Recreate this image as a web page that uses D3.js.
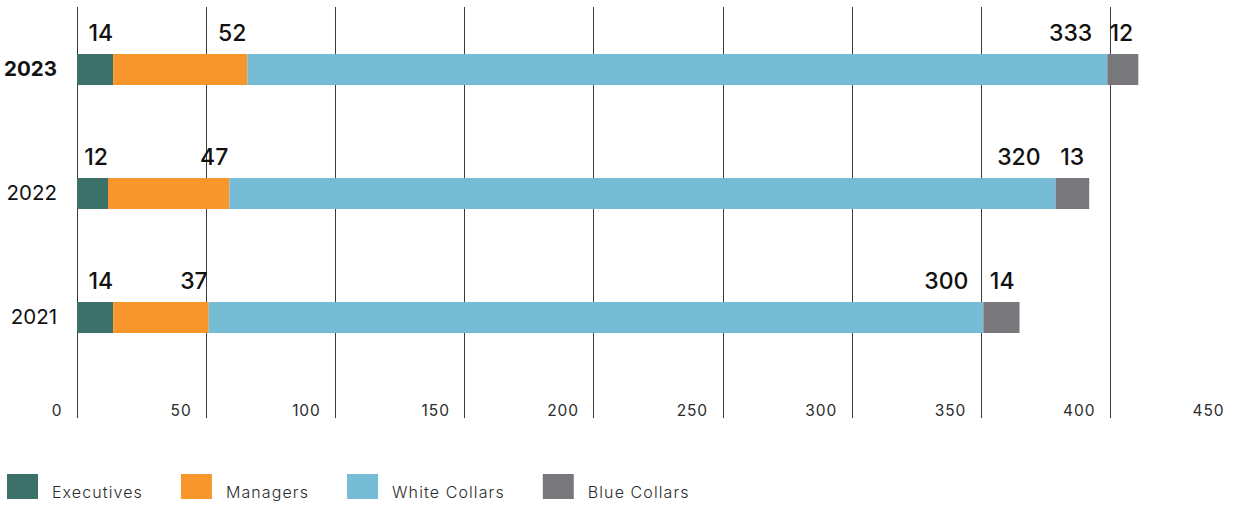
<!DOCTYPE html>
<html>
<head>
<meta charset="utf-8">
<script src="https://cdn.jsdelivr.net/npm/d3@7"></script>
<style>
  html, body { margin: 0; padding: 0; background: #fff; }
  svg { display: block; }
</style>
</head>
<body>
<svg id="chart" width="1238" height="505"></svg>
<script>
// Headcount by employee category, stacked per year
const years = ["2023", "2022", "2021"];
const categories = ["Executives", "Managers", "White Collars", "Blue Collars"];
const executives = [14, 12, 14];
const managers = [52, 47, 37];
const whiteCollars = [333, 320, 300];
const blueCollars = [12, 13, 14];
const tickValues = [0, 50, 100, 150, 200, 250, 300, 350, 400, 450];

const colors = ["#3b7169", "#f7972b", "#77bcd5", "#78787c"];
// how far each category's value label sits back from its segment end
const labelInset = [0, 1, 15, 5];

const rows = years.map((y, i) => ({
  year: y,
  Executives: executives[i],
  Managers: managers[i],
  "White Collars": whiteCollars[i],
  "Blue Collars": blueCollars[i]
}));

const svg = d3.select("#chart");
const font = "Inter, 'Noto Sans', sans-serif";

const x = d3.scaleLinear().domain([0, 450]).range([77, 1239]);
const y = d3.scaleBand().domain(years).range([7.5, 379.5])
  .paddingInner(0.75).paddingOuter(0.375);

// vertical gridlines
const grid = svg.append("g");
grid.selectAll("line").data(tickValues).join("line")
  .attr("x1", d => Math.round(x(d)) + 0.5)
  .attr("x2", d => Math.round(x(d)) + 0.5)
  .attr("y1", 7).attr("y2", 418)
  .attr("stroke", "#3a3a3a").attr("stroke-width", 1);

// tick labels sit to the left of each gridline
const xAxis = d3.axisBottom(x).tickValues(tickValues).tickSize(0).tickPadding(0);
const axisG = svg.append("g").attr("transform", "translate(0,404)").call(xAxis);
axisG.select(".domain").remove();
axisG.selectAll("text")
  .attr("text-anchor", "end")
  .attr("x", -15)
  .attr("dy", 0)
  .attr("y", 12)
  .attr("font-family", font)
  .attr("font-size", "15.5px")
  .attr("letter-spacing", "0.9px")
  .attr("fill", "#2b2b2b");

// stacked bars
const stack = d3.stack().keys(categories)(rows);
const layers = svg.append("g").selectAll("g").data(stack).join("g")
  .attr("fill", (d, i) => colors[i]);

layers.selectAll("rect").data(d => d).join("rect")
  .attr("x", d => x(d[0]))
  .attr("width", d => x(d[1]) - x(d[0]))
  .attr("y", d => y(d.data.year))
  .attr("height", y.bandwidth());

// value labels above each segment
const labels = svg.append("g").selectAll("g").data(stack).join("g");
labels.each(function (layer, li) {
  d3.select(this).selectAll("text").data(layer).join("text")
    .attr("x", d => x(d[1]) - labelInset[li])
    .attr("y", d => y(d.data.year) - 13)
    .attr("text-anchor", "end")
    .attr("font-family", font)
    .attr("font-size", "23px")
    .attr("font-weight", 500)
    .attr("fill", "#111")
    .text(d => d[1] - d[0]);
});

// year labels
const yAxis = d3.axisLeft(y).tickSize(0).tickPadding(20);
const yG = svg.append("g").attr("transform", "translate(77,0)").call(yAxis);
yG.select(".domain").remove();
yG.selectAll("text")
  .attr("font-family", font)
  .attr("font-size", "20.5px")
  .attr("font-weight", d => d === years[0] ? 700 : 400)
  .attr("fill", "#111");

// legend
const legend = svg.append("g").attr("transform", "translate(7,474)");
let lx = 0;
categories.forEach((c, i) => {
  const item = legend.append("g").attr("transform", `translate(${lx},0)`);
  item.append("rect").attr("width", 31).attr("height", 25).attr("fill", colors[i]);
  const t = item.append("text")
    .attr("x", 45).attr("y", 24)
    .attr("font-family", font)
    .attr("font-size", "16px")
    .attr("letter-spacing", "1.1px")
    .attr("font-weight", 300)
    .attr("fill", "#2b2b2b")
    .text(c);
  lx += 45 + t.node().getComputedTextLength() + 38;
});
</script>
</body>
</html>
